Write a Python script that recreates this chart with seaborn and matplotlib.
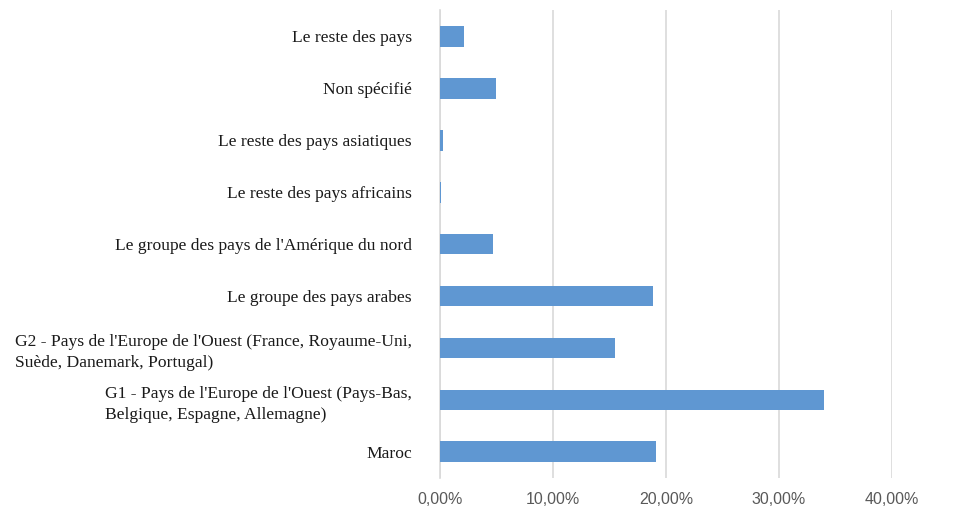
# Bar chart of the share per group of countries (horizontal bars, Excel style)
import pandas as pd
import matplotlib
matplotlib.use("Agg")
import matplotlib.pyplot as plt
from matplotlib.ticker import FuncFormatter, MultipleLocator
import seaborn as sns

# Categories from top to bottom, as they appear in the chart
categories = [
    "Le reste des pays",
    "Non spécifié",
    "Le reste des pays asiatiques",
    "Le reste des pays africains",
    "Le groupe des pays de l'Amérique du nord",
    "Le groupe des pays arabes",
    "G2 - Pays de l'Europe de l'Ouest (France, Royaume-Uni,\nSuède, Danemark, Portugal)",
    "G1 - Pays de l'Europe de l'Ouest (Pays-Bas,\nBelgique, Espagne, Allemagne)",
    "Maroc",
]
# Shares (fraction, not percent)
shares = [0.021, 0.050, 0.003, 0.001, 0.047, 0.189, 0.155, 0.340, 0.191]

df = pd.DataFrame({"categorie": categories, "part": shares})

sns.set_style("white")
plt.rcParams["font.family"] = ["Liberation Serif", "DejaVu Serif"]

fig = plt.figure(figsize=(9.54, 5.16), dpi=100)
ax = fig.add_axes([0.461, 0.074, 0.474, 0.906])

sns.barplot(data=df, y="categorie", x="part", orient="h", color="#5f97d2",
            width=0.4, saturation=1, linewidth=0, ax=ax, zorder=3)

# x axis: 0% to 40% with comma decimals
ax.set_xlim(0, 0.40)
ax.xaxis.set_major_locator(MultipleLocator(0.10))
ax.xaxis.set_major_formatter(FuncFormatter(lambda v, p: f"{v*100:.2f}%".replace(".", ",")))
ax.grid(axis="x", color="#d9d9d9", linewidth=1.2, zorder=0)
ax.set_xlabel("")
ax.set_ylabel("")

for lab in ax.get_xticklabels():
    lab.set_family(["Liberation Sans", "DejaVu Sans"])
    lab.set_color("#595959")
    lab.set_fontsize(11.5)
for lab in ax.get_yticklabels():
    lab.set_fontsize(12.6)
    lab.set_color("#1a1a1a")
    lab.set_multialignment("left")
    lab.set_linespacing(1.45)

ax.tick_params(axis="x", length=0, pad=10)
ax.tick_params(axis="y", length=0, pad=20)

for side in ["top", "right", "bottom"]:
    ax.spines[side].set_visible(False)
ax.spines["left"].set_color("#d9d9d9")
ax.spines["left"].set_linewidth(1.2)

fig.savefig("out.png", dpi=100)
